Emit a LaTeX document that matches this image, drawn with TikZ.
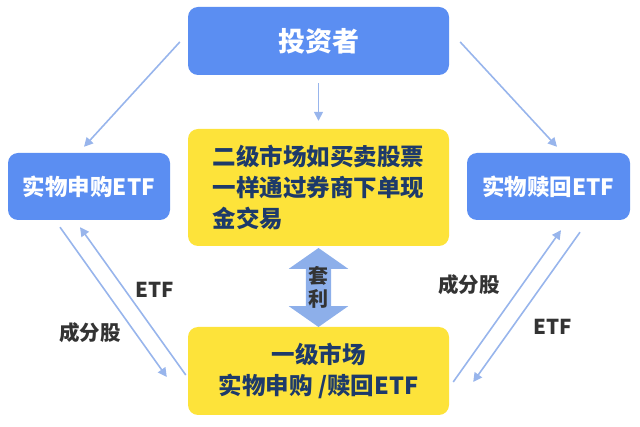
\documentclass[tikz,border=0pt]{standalone}
\usepackage{fontspec}
\setmainfont{Noto Sans CJK SC}
\usetikzlibrary{arrows.meta,shapes.arrows,calc}
\definecolor{boxblue}{HTML}{5B8EF2}
\definecolor{linkblue}{HTML}{98B5EC}
\definecolor{arbblue}{HTML}{8DAFEA}
\definecolor{boxyellow}{HTML}{FDE33A}
\definecolor{textnavy}{HTML}{1D3A6A}
\definecolor{labelgray}{HTML}{333333}

\begin{document}
\begin{tikzpicture}[x=1pt,y=-1pt,
  bluebox/.style={fill=boxblue, rounded corners=10pt, text=white, inner sep=0pt,
    font=\bfseries\fontsize{22.5}{26}\selectfont},
  yellowbox/.style={fill=boxyellow, rounded corners=10pt, text=textnavy, inner sep=0pt,
    minimum width=261pt, font=\bfseries\fontsize{23.5}{31}\selectfont},
  link/.style={draw=linkblue, line width=1.6pt, -{Triangle[length=9pt,width=9pt]}},
  tag/.style={text=labelgray, font=\bfseries\fontsize{20.5}{24}\selectfont}]
\useasboundingbox (0,0) rectangle (640,427);

% boxes
\node[bluebox, minimum width=261pt, minimum height=68pt,
  font=\bfseries\fontsize{27}{31}\selectfont] (investor) at (318.5,41) {投资者};
\node[bluebox, minimum width=162pt, minimum height=67pt] (subbuy) at (89,186.5) {实物申购ETF};
\node[bluebox, minimum width=163pt, minimum height=67pt] (redeem) at (548.5,186.5) {实物赎回ETF};
\node[yellowbox, minimum height=117pt, align=left] (second) at (318.5,187.5)
  {二级市场如买卖股票\\一样通过券商下单现\\金交易};
\node[yellowbox, minimum height=88pt, align=center] (primary) at (318.5,371)
  {一级市场\\实物申购 /赎回ETF};

% arbitrage arrow
\node[double arrow, shape border rotate=90, fill=arbblue, text=labelgray,
  inner xsep=2.5pt, inner ysep=2pt, double arrow head extend=17pt,
  double arrow tip angle=110, minimum height=79pt, align=center,
  font=\bfseries\fontsize{20}{23}\selectfont] (arb) at (318.5,287.5) {套\\利};

% links from the investor
\draw[link] ($(investor.west)+(-8,1)$) -- ($(subbuy.north)+(-5,-6)$);
\draw[link] ($(investor.south)+(0,8)$) -- ($(second.north)+(0,-8)$);
\draw[link] ($(investor.east)+(11,1)$) -- ($(redeem.north)+(8.5,-6)$);

% creation side
\draw[link] ($(subbuy.south)+(-29,7)$) -- ($(primary.west)+(-21,6)$);
\draw[link] ($(primary.west)+(-2,4)$) -- ($(subbuy.south)+(-9,7)$);
\node[tag] (etfleft) at (155,290) {ETF};
\node[tag] (stockleft) at (90,333) {成分股};

% redemption side
\draw[link] ($(primary.east)+(4,11)$) -- ($(redeem.south)+(12.5,10)$);
\draw[link] ($(redeem.south)+(31.5,12)$) -- ($(primary.east)+(24,11)$);
\node[tag] (stockright) at (469,285) {成分股};
\node[tag] (etfright) at (553,327) {ETF};
\end{tikzpicture}
\end{document}
